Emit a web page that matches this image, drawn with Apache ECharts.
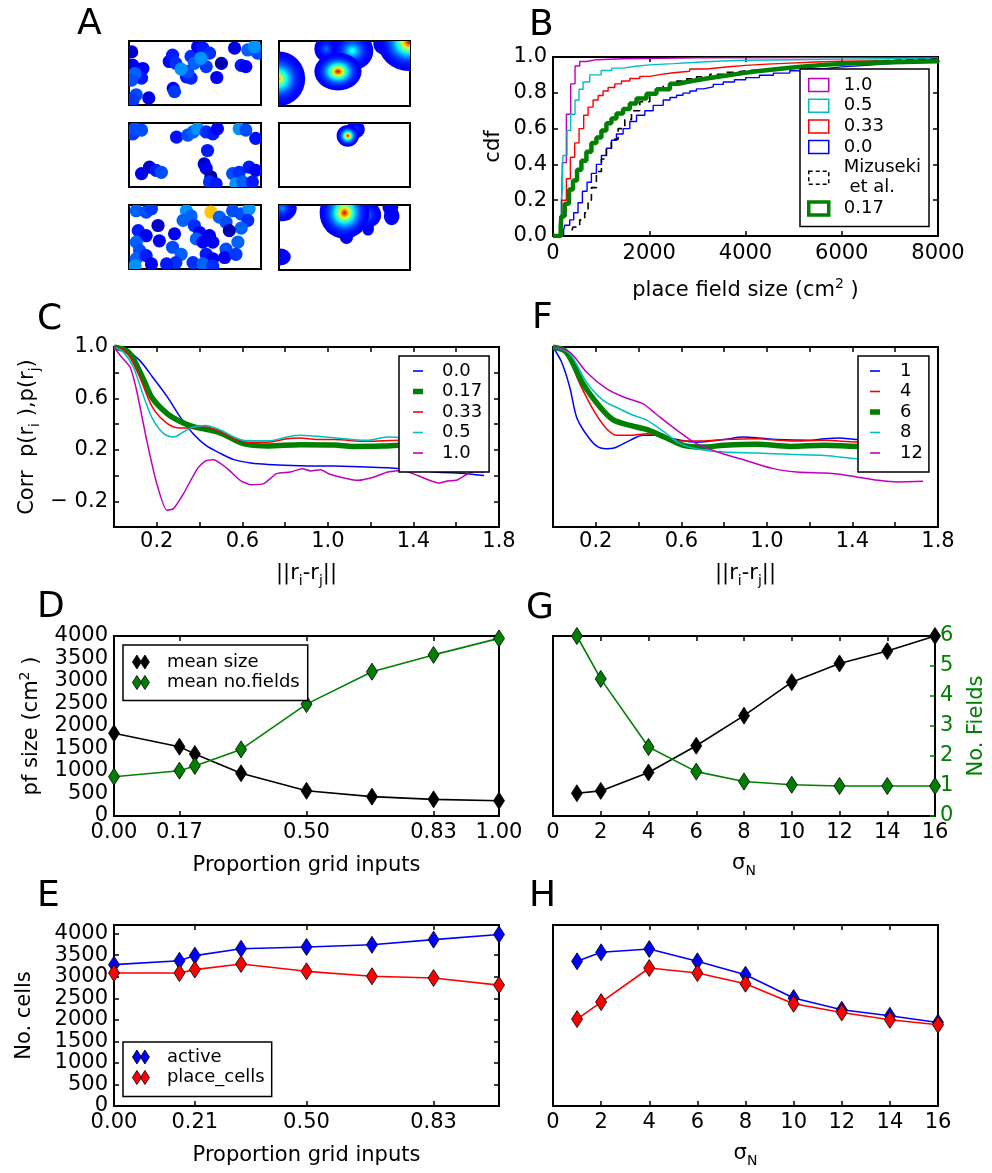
<!DOCTYPE html>
<html><head><meta charset="utf-8">
<script src="https://cdn.jsdelivr.net/npm/echarts@6/dist/echarts.min.js"></script>
<style>html,body{margin:0;padding:0;background:#fff}#c{width:992px;height:1173px}</style>
</head><body><div id="c"></div>
<script>
// ================= DATA =================
// Panel A – left column: place-field discs [x (0..2), y (0..1), activity (0..1)]
const A_L1 = [[0.04,0.83,0.08],[0.06,0.62,0.1],[0.21,0.57,0.12],[0.19,0.42,0.15],[0.09,0.49,0.22],[0.04,0.39,0.2],
[0.11,0.16,0.2],[0.06,0.08,0.18],[0.30,0.11,0.1],[0.61,0.68,0.12],[0.66,0.78,0.15],[0.71,0.65,0.17],[0.87,0.44,0.15],
[0.94,0.42,0.16],[0.89,0.52,0.2],[0.79,0.56,0.27],[0.94,0.76,0.17],[1.04,0.91,0.12],[1.12,0.89,0.15],[1.22,0.81,0.17],
[1.17,0.60,0.18],[0.99,0.65,0.22],[1.09,0.73,0.27],[0.67,0.26,0.12],[0.69,0.21,0.18],[1.33,0.43,0.12],[1.40,0.65,0.05],
[1.60,0.89,0.1],[1.70,0.62,0.15],[1.77,0.60,0.12],[1.80,0.86,0.22],[1.95,0.81,0.2],[1.90,0.91,0.27]];
const A_L2 = [[0.06,0.83,0.18],[0.09,0.91,0.2],[0.19,0.89,0.2],[0.72,0.78,0.14],[0.89,0.81,0.2],[0.97,0.86,0.22],
[1.04,0.91,0.27],[1.17,0.86,0.17],[1.27,0.83,0.15],[1.34,0.91,0.12],[1.67,0.91,0.27],[1.77,0.89,0.2],[1.92,0.76,0.14],
[1.19,0.57,0.15],[1.14,0.36,0.07],[1.17,0.29,0.12],[1.24,0.16,0.03],[1.22,0.08,0.17],[1.32,0.05,0.15],[0.19,0.21,0.12],
[0.31,0.31,0.08],[0.41,0.26,0.15],[0.49,0.23,0.2],[1.57,0.21,0.2],[1.67,0.23,0.17],[1.82,0.31,0.15],[1.92,0.26,0.12],
[1.62,0.05,0.27],[1.72,0.08,0.22],[1.87,0.08,0.15]];
const A_L3 = [[0.11,0.91,0.22],[0.26,0.89,0.2],[0.34,0.94,0.18],[0.44,0.68,0.07],[0.14,0.60,0.15],[0.26,0.52,0.12],
[0.11,0.42,0.22],[0.16,0.29,0.2],[0.11,0.16,0.22],[0.09,0.05,0.27],[0.26,0.21,0.15],[0.34,0.08,0.12],[0.46,0.44,0.12],
[0.69,0.55,0.12],[0.66,0.34,0.2],[0.79,0.23,0.22],[0.71,0.10,0.17],[0.57,0.08,0.15],[0.87,0.91,0.27],[0.82,0.76,0.22],
[0.94,0.83,0.22],[0.99,0.68,0.17],[1.07,0.57,0.12],[1.02,0.47,0.22],[1.12,0.42,0.12],[1.22,0.52,0.1],[1.27,0.42,0.12],
[1.17,0.23,0.15],[1.27,0.16,0.12],[0.97,0.10,0.17],[1.12,0.08,0.22],[1.24,0.89,0.68],[1.37,0.81,0.22],[1.47,0.73,0.2],
[1.57,0.91,0.2],[1.70,0.86,0.2],[1.82,0.94,0.27],[1.80,0.76,0.17],[1.70,0.64,0.22],[1.52,0.60,0.05],[1.65,0.42,0.22],
[1.47,0.31,0.2],[1.45,0.18,0.12],[1.62,0.23,0.18],[1.27,0.05,0.17]];
// Panel A – right column: smooth fields [cx, cy, rx, ry, peak]
const A_R1 = [[1.60,0.95,0.16,0.16,0.15],[0.72,0.88,0.18,0.2,0.25],[1.12,0.85,0.32,0.3,0.45],[0.0,0.42,0.40,0.42,0.72],
[0.90,0.53,0.36,0.29,0.95],[1.98,0.98,0.47,0.44,0.92]];
const A_R2 = [[1.17,0.90,0.14,0.14,0.2],[1.05,0.80,0.17,0.17,0.95]];
const A_R3 = [[0.05,0.95,0.22,0.2,0.28],[0.02,0.2,0.16,0.13,0.13],[1.03,0.5,0.1,0.1,0.12],[1.36,0.63,0.09,0.1,0.12],
[1.72,0.83,0.12,0.14,0.12],[1.70,0.96,0.12,0.12,0.12],[1.3,0.85,0.26,0.22,0.35],[1.0,0.88,0.38,0.4,0.93]];

// Panel B – cumulative distributions [place field size, cdf]
const cdf_1_0 = [[0,0],[180,0.2],[194,0.41],[278,0.68],[368,0.85],[458,0.95],[555,0.975],[694,0.985],[902,0.99],[1457,0.995],[3000,0.998],[8000,1]];
const cdf_0_5 = [[0,0],[170,0.2],[194,0.26],[208,0.45],[292,0.59],[368,0.68],[458,0.76],[541,0.82],[625,0.86],[763,0.9],[1000,0.925],[1220,0.938],[1457,0.948],[1720,0.956],[2000,0.963],[2500,0.971],[3000,0.978],[3500,0.982],[4000,0.985],[5000,0.988],[6000,0.99],[7000,0.992],[8000,0.993]];
const cdf_0_33 = [[0,0],[180,0.2],[278,0.32],[361,0.44],[451,0.52],[541,0.6],[638,0.675],[729,0.72],[833,0.76],[937,0.785],[1041,0.81],[1145,0.83],[1284,0.85],[1423,0.866],[1596,0.88],[1804,0.892],[2012,0.903],[2250,0.912],[2498,0.92],[2840,0.933],[3192,0.944],[3600,0.953],[4004,0.96],[4450,0.966],[4927,0.972],[5450,0.976],[6003,0.98],[7000,0.985],[8000,0.99]];
const cdf_0_0 = [[0,0],[220,0.033],[243,0.06],[347,0.09],[430,0.13],[520,0.186],[611,0.25],[708,0.30],[798,0.35],[902,0.40],[1006,0.45],[1110,0.49],[1214,0.535],[1318,0.57],[1457,0.60],[1596,0.64],[1735,0.675],[1908,0.70],[2082,0.73],[2290,0.76],[2430,0.774],[2568,0.786],[2700,0.798],[2845,0.81],[2980,0.822],[3123,0.833],[3330,0.847],[3539,0.86],[3770,0.873],[4004,0.885],[4290,0.898],[4580,0.91],[4920,0.923],[5274,0.935],[5640,0.945],[6003,0.953],[6500,0.963],[7009,0.972],[7500,0.976],[8000,0.98]];
const cdf_miz = [[0,0],[380,0.02],[416,0.05],[555,0.09],[659,0.13],[729,0.2],[798,0.27],[902,0.36],[1006,0.43],[1110,0.49],[1214,0.54],[1353,0.6],[1492,0.65],[1631,0.7],[1804,0.75],[2012,0.8],[2150,0.82],[2290,0.84],[2430,0.853],[2568,0.865],[2780,0.878],[2984,0.89],[3260,0.903],[3539,0.915],[3770,0.923],[4004,0.93],[4460,0.94],[4927,0.95],[5270,0.956],[5621,0.962],[5970,0.969],[6315,0.975],[6660,0.98],[7009,0.985],[7500,0.988],[8000,0.99]];
const cdf_0_17 = [[0,0],[160,0.05],[173,0.11],[243,0.18],[333,0.26],[416,0.31],[500,0.37],[590,0.42],[694,0.47],[798,0.52],[902,0.55],[1006,0.59],[1110,0.63],[1214,0.656],[1318,0.684],[1457,0.71],[1596,0.74],[1735,0.768],[1943,0.795],[2151,0.82],[2429,0.85],[2600,0.86],[2776,0.87],[2980,0.88],[3192,0.89],[3430,0.90],[3678,0.91],[3950,0.92],[4233,0.93],[4580,0.94],[4927,0.948],[5270,0.956],[5621,0.963],[6100,0.968],[6662,0.972],[7300,0.976],[8000,0.98]];

// Panel C – spatial correlation vs distance, by proportion of grid inputs [||ri-rj||, corr]
const C_0_0 = [[0,1.0],[0.06,0.974],[0.12,0.896],[0.18,0.767],[0.25,0.61],[0.31,0.455],[0.37,0.326],[0.43,0.235],[0.5,0.17],[0.56,0.124],[0.64,0.098],[0.72,0.087],[0.87,0.077],[1.03,0.074],[1.18,0.067],[1.34,0.054],[1.5,0.028],[1.65,0.015],[1.73,0.0]];
const C_0_17 = [[0,1.0],[0.06,0.97],[0.09,0.91],[0.14,0.74],[0.18,0.6],[0.25,0.48],[0.31,0.42],[0.37,0.38],[0.43,0.36],[0.5,0.33],[0.56,0.28],[0.62,0.243],[0.72,0.23],[0.87,0.24],[1.03,0.238],[1.12,0.227],[1.26,0.23],[1.34,0.235],[1.5,0.235],[1.73,0.23]];
const C_0_33 = [[0,1.0],[0.06,0.96],[0.12,0.767],[0.18,0.53],[0.25,0.404],[0.31,0.37],[0.37,0.373],[0.43,0.378],[0.5,0.34],[0.56,0.287],[0.62,0.26],[0.72,0.26],[0.81,0.287],[0.87,0.292],[0.95,0.28],[1.03,0.28],[1.18,0.266],[1.34,0.274],[1.5,0.27],[1.73,0.27]];
const C_0_5 = [[0,1.0],[0.044,0.96],[0.09,0.844],[0.14,0.61],[0.18,0.443],[0.23,0.33],[0.28,0.3],[0.325,0.34],[0.37,0.378],[0.43,0.39],[0.5,0.352],[0.56,0.3],[0.62,0.27],[0.72,0.27],[0.81,0.3],[0.87,0.313],[0.95,0.305],[1.03,0.295],[1.18,0.274],[1.28,0.3],[1.34,0.295],[1.5,0.29],[1.73,0.29]];
const C_1_0 = [[0,1.0],[0.036,0.92],[0.075,0.844],[0.106,0.66],[0.153,0.274],[0.2,-0.063],[0.247,-0.27],[0.278,-0.257],[0.325,-0.14],[0.39,0.054],[0.427,0.113],[0.466,0.124],[0.53,0.054],[0.59,-0.037],[0.64,-0.071],[0.7,-0.063],[0.76,0.015],[0.825,0.028],[0.88,0.054],[0.92,0.036],[0.966,0.046],[1.01,0.01],[1.14,-0.037],[1.216,-0.011],[1.28,0.028],[1.35,0.04],[1.42,0.0],[1.52,-0.058],[1.56,-0.042],[1.6,-0.037],[1.65,0.01],[1.68,0.03],[1.73,0.03]];

// Panel F – spatial correlation vs distance, by sigma_N
const F_1 = [[0,1.0],[0.04,0.883],[0.078,0.689],[0.11,0.455],[0.148,0.339],[0.2,0.235],[0.25,0.209],[0.29,0.217],[0.36,0.274],[0.42,0.313],[0.48,0.313],[0.58,0.28],[0.67,0.26],[0.8,0.28],[0.89,0.3],[0.95,0.295],[1.05,0.28],[1.19,0.274],[1.27,0.287],[1.34,0.292],[1.42,0.28],[1.55,0.28],[1.73,0.28]];
const F_4 = [[0,1.0],[0.0625,0.948],[0.125,0.715],[0.19,0.507],[0.25,0.365],[0.3,0.313],[0.36,0.313],[0.44,0.326],[0.52,0.295],[0.61,0.269],[0.7,0.269],[0.8,0.28],[0.95,0.287],[1.11,0.269],[1.27,0.274],[1.42,0.261],[1.55,0.26],[1.73,0.26]];
const F_6 = [[0,1.0],[0.0625,0.96],[0.14,0.715],[0.22,0.533],[0.28,0.435],[0.36,0.39],[0.44,0.357],[0.52,0.3],[0.61,0.235],[0.7,0.222],[0.8,0.235],[0.95,0.243],[1.11,0.227],[1.27,0.235],[1.42,0.227],[1.55,0.23],[1.73,0.23]];
const F_8 = [[0,1.0],[0.078,0.948],[0.156,0.728],[0.234,0.585],[0.31,0.52],[0.375,0.469],[0.44,0.43],[0.52,0.339],[0.59,0.253],[0.67,0.209],[0.8,0.183],[0.95,0.176],[1.11,0.165],[1.27,0.157],[1.42,0.131],[1.55,0.12],[1.73,0.11]];
const F_12 = [[0,1.0],[0.078,0.96],[0.156,0.806],[0.25,0.676],[0.33,0.611],[0.42,0.559],[0.48,0.481],[0.58,0.352],[0.67,0.248],[0.77,0.183],[0.875,0.131],[1.03,0.054],[1.14,0.028],[1.27,0.02],[1.34,0.01],[1.42,-0.011],[1.52,-0.037],[1.61,-0.05],[1.73,-0.045]];

// Panels D / E – vs proportion of grid inputs
const prop_x = [0, 0.17, 0.21, 0.33, 0.5, 0.67, 0.83, 1.0];
const D_mean_size = [1840, 1540, 1380, 950, 560, 430, 370, 340];
const D_mean_fields = [1.31, 1.51, 1.67, 2.22, 3.73, 4.81, 5.37, 5.92];
const E_active = [3280, 3370, 3490, 3650, 3690, 3740, 3860, 3980];
const E_place = [3085, 3085, 3165, 3295, 3125, 3010, 2970, 2805];
// Panels G / H – vs sigma_N
const sigma_x = [1, 2, 4, 6, 8, 10, 12, 14, 16];
const G_mean_size = [506, 558, 967, 1561, 2230, 2974, 3390, 3665, 4000];
const G_fields = [6.0, 4.57, 2.30, 1.48, 1.15, 1.04, 1.0, 1.0, 1.0];
const H_active = [3357, 3566, 3643, 3357, 3047, 2504, 2233, 2093, 1938];
const H_place = [2016, 2411, 3202, 3085, 2837, 2372, 2171, 2000, 1884];

// tick label lists
const C_xlabels = [0.2, 0.6, 1.0, 1.4, 1.8];
const C_ylabels = [-0.2, 0.2, 0.6, 1.0];
const D_xlabels = [0, 0.17, 0.5, 0.83, 1.0];
const D_xticks = [0.17, 0.5, 0.83];
const E_xlabels = [0, 0.21, 0.5, 0.83];
const E_xticks = [0.21, 0.5, 0.83];
const E_yticks = [0, 500, 1000, 1500, 2000, 2500, 3000, 3500, 4000];

// ================= BUILD =================
const FF = 'DejaVu Sans';
const JET = ['#00007f','#0000ff','#007fff','#00ffff','#7fff7f','#ffff00','#ff7f00','#ff0000','#7f0000'];
function jet(v){ v=Math.max(0,Math.min(1,v)); const c=x=>Math.round(255*Math.max(0,Math.min(1,x)));
  return 'rgb('+c(1.5-Math.abs(4*v-3))+','+c(1.5-Math.abs(4*v-2))+','+c(1.5-Math.abs(4*v-1))+')'; }

const grids=[], xAxis=[], yAxis=[], series=[], legend=[], title=[];
function G(l,t,w,h){ grids.push({left:l,top:t,width:w,height:h,show:true,borderColor:'#000',borderWidth:2,backgroundColor:'#fff'}); return grids.length-1; }
function AX(arr,o){ arr.push(Object.assign({type:'value',splitLine:{show:false},axisLine:{show:false,onZero:false},axisTick:{show:false},axisLabel:{show:false}},o)); return arr.length-1; }
function TK(color,custom){ const t={show:true,inside:true,length:5,lineStyle:{color:color||'#000',width:1.5}}; if(custom) t.customValues=custom; return t; }
function LB(o){ return Object.assign({show:true,fontSize:21,fontFamily:FF,color:'#000',margin:6},o||{}); }
function NT(color){ color=color||'#000'; return {fontSize:21,fontFamily:FF,color:color,lineHeight:28,
  rich:{sup:{fontSize:14,fontFamily:FF,color:color,verticalAlign:'top'},sub:{fontSize:14,fontFamily:FF,color:color,verticalAlign:'bottom'}}}; }
const nm = n => n.split('|')[1];
const LEGTXT = (pad) => ({fontSize:18,fontFamily:FF,color:'#000',lineHeight:20,padding:[0,0,0,pad]});

// ---- Panel A ----
const CIRCLE_R = 0.1;
function renderCircle(params, api){
  const c = api.coord([api.value(0), api.value(1)]);
  const r = api.size([CIRCLE_R, CIRCLE_R])[0];
  return {type:'circle', shape:{cx:c[0],cy:c[1],r:r}, style:{fill:api.visual('color')}};
}
function renderBlob(params, api){
  const c = api.coord([api.value(0), api.value(1)]);
  const s = api.size([api.value(2), api.value(3)]);
  const pk = api.value(4);
  const stops=[];
  for(let i=0;i<=10;i++){ const t=i/10; stops.push({offset:t,color:jet(0.12+(pk-0.12)*Math.pow(1-t,2.4))}); }
  return {type:'circle', x:c[0], y:c[1], scaleY:s[1]/s[0], shape:{cx:0,cy:0,r:s[0]},
    style:{fill:{type:'radial',x:0.5,y:0.5,r:0.5,colorStops:stops}}};
}
const leftPos=[[129,41,132,64],[129,123,132,64],[129,205,132,64]];
const rightPos=[[279,41,131,65],[279,123,131,64],[279,205,131,65]];
[A_L1,A_L2,A_L3].forEach((d,i)=>{ const g=G(...leftPos[i]);
  const xi=AX(xAxis,{gridIndex:g,min:0,max:2,show:false}); const yi=AX(yAxis,{gridIndex:g,min:0,max:1,show:false});
  series.push({type:'custom',xAxisIndex:xi,yAxisIndex:yi,clip:true,silent:true,renderItem:renderCircle,data:d}); });
[A_R1,A_R2,A_R3].forEach((d,i)=>{ const g=G(...rightPos[i]);
  const xi=AX(xAxis,{gridIndex:g,min:0,max:2,show:false}); const yi=AX(yAxis,{gridIndex:g,min:0,max:1,show:false});
  series.push({type:'custom',xAxisIndex:xi,yAxisIndex:yi,clip:true,silent:true,renderItem:renderBlob,data:d}); });

// ---- Panel B ----
{
  const g=G(553,57,385,179);
  const bx=AX(xAxis,{gridIndex:g,min:0,max:8000,interval:2000,axisTick:TK(),axisLabel:LB({margin:7,formatter:v=>String(v)}),
    name:'place field size (cm{sup|2} )',nameLocation:'middle',nameGap:41,nameTextStyle:NT()});
  AX(xAxis,{gridIndex:g,position:'top',min:0,max:8000,interval:2000,axisTick:TK()});
  const by=AX(yAxis,{gridIndex:g,min:0,max:1,interval:0.2,axisTick:TK(),axisLabel:LB({formatter:v=>v.toFixed(1)}),
    name:'cdf',nameLocation:'middle',nameGap:45,nameTextStyle:NT()});
  AX(yAxis,{gridIndex:g,position:'right',min:0,max:1,interval:0.2,axisTick:TK()});
  const defs=[['B|1.0',cdf_1_0,'#bf00bf',1.4,'solid',1.5],['B|0.5',cdf_0_5,'#00bfbf',1.4,'solid',1.5],['B|0.33',cdf_0_33,'#ff0000',1.4,'solid',1.5],
    ['B|0.0',cdf_0_0,'#0000ff',1.4,'solid',1.5],['B|Mizuseki\n et al.',cdf_miz,'#000000',1.6,[7,5],1.5],['B|0.17',cdf_0_17,'#008000',4.5,'solid',3.5]];
  const ld=[];
  defs.forEach(d=>{ series.push({type:'line',name:d[0],xAxisIndex:bx,yAxisIndex:by,data:d[1],step:'end',showSymbol:false,symbol:'none',
      lineStyle:{color:d[2],width:d[3],type:d[4]},itemStyle:{color:d[2]}});
    ld.push({name:d[0],icon:'rect',itemStyle:{color:'rgba(0,0,0,0)',borderColor:d[2],borderWidth:d[5],borderType:Array.isArray(d[4])?[4,3]:'solid'}}); });
  legend.push({left:800,top:69,orient:'vertical',selectedMode:false,backgroundColor:'#fff',borderColor:'#000',borderWidth:1.5,borderRadius:0,
    padding:[6,8,8,7],itemGap:0.7,itemWidth:20,itemHeight:13,textStyle:LEGTXT(10),formatter:nm,data:ld});
}

// ---- Panels C & F ----
function corrPanel(left, withY, defs, legLeft, legPad, txtPad){
  const g=G(left,347,385,180);
  const xi=AX(xAxis,{gridIndex:g,min:0,max:1.8,interval:0.2,axisTick:TK(),
    axisLabel:LB({margin:4,customValues:C_xlabels,formatter:v=>v.toFixed(1)}),
    name:'||r{sub|i}-r{sub|j}||',nameLocation:'middle',nameGap:33,nameTextStyle:NT()});
  AX(xAxis,{gridIndex:g,position:'top',min:0,max:1.8,interval:0.2,axisTick:TK()});
  let yi;
  if(withY){
    yi=AX(yAxis,{gridIndex:g,min:-0.4,max:1.0,interval:0.2,axisTick:TK(),
      axisLabel:LB({customValues:C_ylabels,formatter:v=>v<0?'\u2212 '+Math.abs(v).toFixed(1):v.toFixed(1)}),
      name:'Corr  p(r{sub|i} ),p(r{sub|j})',nameLocation:'middle',nameGap:72,nameTextStyle:NT()});
    AX(yAxis,{gridIndex:g,position:'right',min:-0.4,max:1.0,interval:0.2,axisTick:TK()});
  } else {
    yi=AX(yAxis,{gridIndex:g,min:-0.4,max:1.0,interval:0.2});
  }
  const ld=[];
  defs.forEach(d=>{ series.push({type:'line',name:d[0],xAxisIndex:xi,yAxisIndex:yi,data:d[1],smooth:d[4],showSymbol:false,symbol:'none',
      lineStyle:{color:d[2],width:d[3]},itemStyle:{color:d[2]}});
    ld.push({name:d[0],icon:d[3]>3?'path://M0,0H10V5.5H0Z':'path://M0,0H10V1.6H0Z',itemStyle:{color:d[2],borderWidth:0}}); });
  legend.push({left:legLeft,top:356,orient:'vertical',selectedMode:false,backgroundColor:'#fff',borderColor:'#000',borderWidth:1.5,borderRadius:0,
    padding:legPad,itemGap:0.5,itemWidth:10,itemHeight:12,textStyle:LEGTXT(txtPad),formatter:nm,data:ld});
}
corrPanel(114,true,[['C|0.0',C_0_0,'#0000ff',1.5,0.3],['C|0.17',C_0_17,'#008000',5.5,0.3],['C|0.33',C_0_33,'#ff0000',1.5,0.3],
  ['C|0.5',C_0_5,'#00bfbf',1.5,0.3],['C|1.0',C_1_0,'#bf00bf',1.5,0.2]],399,[5,7,9,14],14);
corrPanel(553,false,[['F|1',F_1,'#0000ff',1.5,0.3],['F|4',F_4,'#ff0000',1.5,0.3],['F|6',F_6,'#008000',5.5,0.3],
  ['F|8',F_8,'#00bfbf',1.5,0.3],['F|12',F_12,'#bf00bf',1.5,0.3]],858,[5,6,9,12],15);

// ---- diamond-marker series helper ----
function dia(name,xi,yi,xs,ys,color){
  return {type:'line',name:name,xAxisIndex:xi,yAxisIndex:yi,data:xs.map((x,i)=>[x,ys[i]]),symbol:'diamond',symbolSize:[11,17],
    showSymbol:true,lineStyle:{color:color,width:1.6},itemStyle:{color:color,borderColor:'#000',borderWidth:0.8}};
}
const DD='path://M4.5,0L9,7L4.5,14L0,7Z M12.5,0L17,7L12.5,14L8,7Z';
function diaLegend(left,top,items,pad){
  legend.push({left:left,top:top,orient:'vertical',selectedMode:false,backgroundColor:'#fff',borderColor:'#000',borderWidth:1.5,borderRadius:0,
    padding:pad,itemGap:0.5,itemWidth:18,itemHeight:14,textStyle:LEGTXT(12),formatter:nm,
    data:items.map(it=>({name:it[0],icon:DD,itemStyle:{color:it[1],borderColor:'#000',borderWidth:0.8}}))});
}

// ---- Panel D ----
{
  const g=G(114,636,385,180);
  const xi=AX(xAxis,{gridIndex:g,min:0,max:1,axisTick:TK('#000',D_xticks),axisLabel:LB({customValues:D_xlabels,formatter:v=>v.toFixed(2)}),
    name:'Proportion grid inputs',nameLocation:'middle',nameGap:36,nameTextStyle:NT()});
  AX(xAxis,{gridIndex:g,position:'top',min:0,max:1,axisTick:TK('#000',D_xticks)});
  const yi=AX(yAxis,{gridIndex:g,min:0,max:4000,interval:500,axisLabel:LB({formatter:v=>String(v)}),
    name:'pf size (cm{sup|2} )',nameLocation:'middle',nameGap:68,nameTextStyle:NT()});
  const yr=AX(yAxis,{gridIndex:g,position:'right',min:0,max:6});
  series.push(dia('D|mean size',xi,yi,prop_x,D_mean_size,'#000000'));
  series.push(dia('D|mean no.fields',xi,yr,prop_x,D_mean_fields,'#008000'));
  diaLegend(123,645,[['D|mean size','#000000'],['D|mean no.fields','#008000']],[7,8,8,9]);
}
// ---- Panel G ----
{
  const g=G(553,636,385,180);
  const xi=AX(xAxis,{gridIndex:g,min:0,max:16,interval:2,axisTick:TK(),axisLabel:LB(),
    name:'\u03c3{sub|N}',nameLocation:'middle',nameGap:34,nameTextStyle:NT()});
  AX(xAxis,{gridIndex:g,position:'top',min:0,max:16,interval:2,axisTick:TK()});
  const yi=AX(yAxis,{gridIndex:g,min:0,max:4000});
  const yr=AX(yAxis,{gridIndex:g,position:'right',min:0,max:6,interval:1,axisTick:TK('#008000'),
    axisLabel:LB({color:'#008000',margin:5}),name:'No. Fields',nameLocation:'middle',nameGap:28,nameTextStyle:NT('#008000')});
  series.push(dia('G|mean size',xi,yi,sigma_x,G_mean_size,'#000000'));
  series.push(dia('G|mean no.fields',xi,yr,sigma_x,G_fields,'#008000'));
}
// ---- Panel E ----
{
  const g=G(114,925,385,181);
  const xi=AX(xAxis,{gridIndex:g,min:0,max:1,axisTick:TK('#000',E_xticks),axisLabel:LB({customValues:E_xlabels,formatter:v=>v.toFixed(2)}),
    name:'Proportion grid inputs',nameLocation:'middle',nameGap:36,nameTextStyle:NT()});
  AX(xAxis,{gridIndex:g,position:'top',min:0,max:1,axisTick:TK('#000',E_xticks)});
  const yi=AX(yAxis,{gridIndex:g,min:0,max:4200,axisTick:TK('#000',E_yticks),axisLabel:LB({customValues:E_yticks,formatter:v=>String(v)}),
    name:'No. cells',nameLocation:'middle',nameGap:75,nameTextStyle:NT()});
  AX(yAxis,{gridIndex:g,position:'right',min:0,max:4200,axisTick:TK('#000',E_yticks)});
  series.push(dia('E|active',xi,yi,prop_x,E_active,'#0000ff'));
  series.push(dia('E|place_cells',xi,yi,prop_x,E_place,'#ff0000'));
  diaLegend(123,1042,[['E|active','#0000ff'],['E|place_cells','#ff0000']],[5,7,9,9]);
}
// ---- Panel H ----
{
  const g=G(553,925,385,181);
  const xi=AX(xAxis,{gridIndex:g,min:0,max:16,interval:2,axisTick:TK(),axisLabel:LB(),
    name:'\u03c3{sub|N}',nameLocation:'middle',nameGap:34,nameTextStyle:NT()});
  AX(xAxis,{gridIndex:g,position:'top',min:0,max:16,interval:2,axisTick:TK()});
  const yi=AX(yAxis,{gridIndex:g,min:0,max:4200});
  series.push(dia('H|active',xi,yi,sigma_x,H_active,'#0000ff'));
  series.push(dia('H|place_cells',xi,yi,sigma_x,H_place,'#ff0000'));
}

// ---- panel letters ----
[['A',77,7],['B',529,8],['C',37,302],['F',532,301],['D',37,590],['G',526,591],['E',37,879],['H',529,879]].forEach(t=>{
  title.push({text:t[0],left:t[1],top:t[2],padding:0,textStyle:{fontSize:36,fontWeight:'normal',fontFamily:FF,color:'#000'}}); });

const chart = echarts.init(document.getElementById('c'), null, {renderer:'canvas'});
chart.setOption({
  animation:false, backgroundColor:'#fff',
  title:title, grid:grids, xAxis:xAxis, yAxis:yAxis, legend:legend, series:series,
  visualMap:[{type:'continuous',show:false,min:0,max:1,dimension:2,seriesIndex:[0,1,2],inRange:{color:JET}}]
});
</script></body></html>
